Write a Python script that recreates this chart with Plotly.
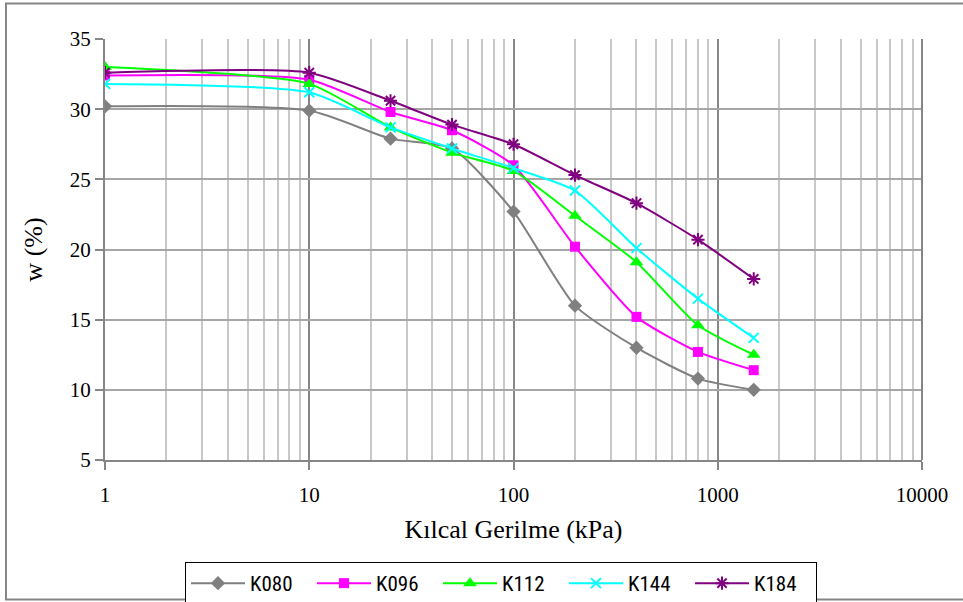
import plotly.graph_objects as go

suction = [1, 10, 25, 50, 100, 200, 400, 800, 1500]
K080 = [30.2, 29.9, 27.9, 27.2, 22.7, 16.0, 13.0, 10.8, 10.0]
K096 = [32.4, 32.1, 29.8, 28.5, 26.0, 20.2, 15.2, 12.7, 11.4]
K112 = [33.0, 31.8, 28.7, 26.9, 25.6, 22.4, 19.1, 14.6, 12.5]
K144 = [31.8, 31.2, 28.7, 27.2, 25.8, 24.2, 20.1, 16.5, 13.7]
K184 = [32.6, 32.6, 30.6, 28.9, 27.5, 25.3, 23.3, 20.7, 17.9]

x_tickvals = [1, 10, 100, 1000, 10000]
x_ticktext = ["1", "10", "100", "1000", "10000"]
y_tickvals = [5, 10, 15, 20, 25, 30, 35]

series = [
    ("K080", K080, "#808080", "diamond", 11, 0),
    ("K096", K096, "#FF00FF", "square", 10, 0),
    ("K112", K112, "#00FF00", "triangle-up", 12, 0),
    ("K144", K144, "#00FFFF", "x-thin-open", 10, 2),
    ("K184", K184, "#800080", "asterisk-open", 11, 2),
]

fig = go.Figure()
for name, vals, col, sym, sz, lw in series:
    mk = dict(symbol=sym, size=sz, color=col)
    if lw:
        mk["line"] = dict(color=col, width=lw)
    fig.add_trace(go.Scatter(
        x=suction, y=vals, name=name, mode="lines+markers",
        line=dict(color=col, width=2, shape="spline", smoothing=0.6),
        marker=mk,
    ))

L, R, T, B = 105, 922, 39, 460
W, H = 963, 602

def px_x(p):
    return (p - L) / (R - L)

def px_y(p):
    return (B - p) / (B - T)

serif = "Liberation Serif"
sans = "Roboto Condensed"

fig.update_layout(
    width=W, height=H,
    margin=dict(l=L, r=W - R, t=T, b=H - B, autoexpand=False),
    paper_bgcolor="white", plot_bgcolor="white",
    showlegend=True,
    legend=dict(
        orientation="h", x=px_x(185), xanchor="left",
        y=px_y(562), yanchor="top",
        bordercolor="black", borderwidth=1,
        font=dict(family=sans, size=21, color="black"),
        itemwidth=54, entrywidth=57, entrywidthmode="pixels",
        tracegroupgap=0,
    ),
    xaxis=dict(
        type="log", range=[0, 4], automargin=False,
        tickvals=x_tickvals, ticktext=x_ticktext,
        ticks="outside", ticklen=8, tickcolor="#868686", tickwidth=2,
        showline=True, linecolor="#868686", linewidth=2, mirror=False,
        showgrid=True, gridcolor="#868686", gridwidth=2,
        minor=dict(dtick="D1", showgrid=True, gridcolor="#c8c8c8", gridwidth=2, ticks=""),
        tickfont=dict(family=serif, size=21, color="black"),
        ticklabelstandoff=7,
        title=dict(text="Kılcal Gerilme (kPa)", font=dict(family=serif, size=26, color="black"), standoff=14),
        zeroline=False,
    ),
    yaxis=dict(
        range=[5, 35], tickvals=y_tickvals, automargin=False,
        ticks="outside", ticklen=8, tickcolor="#868686", tickwidth=2,
        showline=True, linecolor="#868686", linewidth=2,
        showgrid=True, gridcolor="#a6a6a6", gridwidth=2,
        tickfont=dict(family=serif, size=21, color="black"),
        title=dict(text="w (%)", font=dict(family=serif, size=26, color="black"), standoff=20),
        zeroline=False,
    ),
    shapes=[
        dict(type="line", xref="paper", yref="paper", x0=1, x1=1, y0=0, y1=1,
             line=dict(color="#868686", width=2)),
        dict(type="rect", xref="paper", yref="paper",
             x0=px_x(6), x1=px_x(966), y0=px_y(3.5), y1=px_y(599.5),
             line=dict(color="#868686", width=2), layer="below"),
    ],
)

fig.write_html("out.html")
